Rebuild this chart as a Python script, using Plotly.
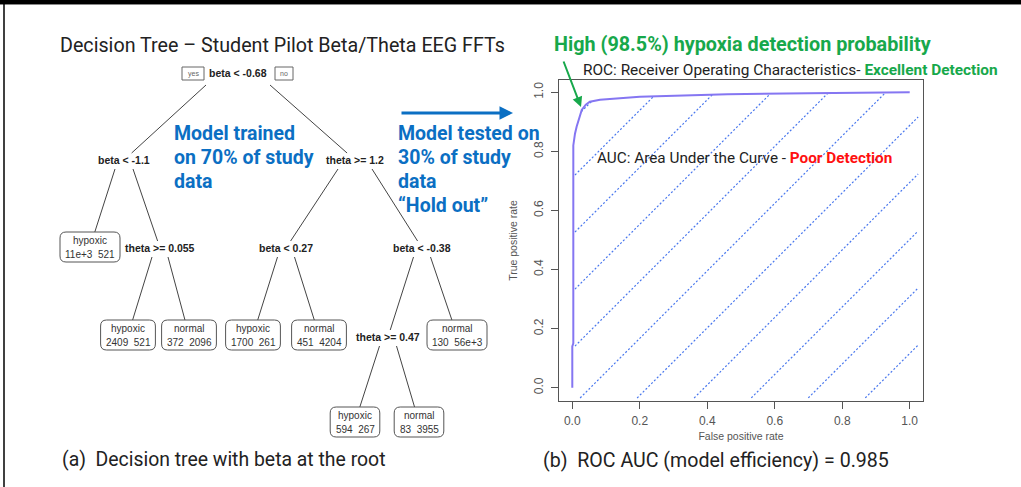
import numpy as np
import plotly.graph_objects as go

W, H = 1021, 487

# ------------------------------------------------------------------ data
roc_fpr = [0.0, 0.0, 0.003, 0.003, 0.008, 0.013, 0.028, 0.040, 0.052, 0.082, 0.20, 0.46, 0.70, 1.0]
roc_tpr = [0.0, 0.14, 0.15, 0.82, 0.86, 0.884, 0.94, 0.958, 0.968, 0.975, 0.985, 0.993, 0.997, 1.0]
tick_vals = [0.0, 0.2, 0.4, 0.6, 0.8, 1.0]
tick_text = ["0.0", "0.2", "0.4", "0.6", "0.8", "1.0"]

split_labels = ["beta < -0.68", "beta < -1.1", "theta >= 1.2", "theta >= 0.055",
                "beta < 0.27", "beta < -0.38", "theta >= 0.47"]
leaf_classes = ["hypoxic", "hypoxic", "normal", "hypoxic", "normal", "hypoxic", "normal", "normal"]
leaf_counts = ["11e+3  521", "2409  521", "372  2096", "1700  261", "451  4204",
               "594  267", "83  3955", "130  56e+3"]
# (parent split, child kind, child index, side)
tree_edges = [(0, "s", 1, -1), (0, "s", 2, 1),
              (1, "l", 0, -1), (1, "s", 3, 1),
              (2, "s", 4, -1), (2, "s", 5, 1),
              (3, "l", 1, -1), (3, "l", 2, 1),
              (4, "l", 3, -1), (4, "l", 4, 1),
              (5, "s", 6, -1), (5, "l", 7, 1),
              (6, "l", 5, -1), (6, "l", 6, 1)]

# ------------------------------------------------------------------ layout geometry (pixels)
split_pos = [(238, 73), (124, 160), (355, 160), (160, 248), (286, 248), (422, 248), (388, 337)]
split_spread = [32, 9, 17, 8, 8.5, 8.5, 8.5]
leaf_pos = [(90, 247), (128, 335), (189, 335), (253, 335), (319, 335), (355, 422), (419, 422), (457, 335)]
leaf_h = 30

roc_px = dict(left=559, right=923, top=80, bottom=401)
x_range = [-0.0394, 1.0394]
y_range = [-0.045, 1.0416]

GREEN = "#17a84b"
BLUE = "#0b6fc3"
RED = "#ff1010"
HATCH = "#4a78ee"
ROC_COL = "#8576f2"
AX = "#555555"

fig = go.Figure()

# ------------------------------------------------------------------ tree (pixel axes x2/y2)
ex, ey = [], []
for p, kind, c, side in tree_edges:
    px, py = split_pos[p]
    sx = px + side * split_spread[p]
    sy = py + (12 if p == 0 else 9)
    if kind == "s":
        cx, cy = split_pos[c]
        top = cy - 7
    else:
        cx, cy = leaf_pos[c]
        top = cy - leaf_h / 2
    t = (top - sy) / (cy - sy)
    exx = sx + (cx - sx) * t
    ex += [sx, exx, None]
    ey += [sy, top, None]
fig.add_trace(go.Scatter(x=ex, y=ey, mode="lines", line=dict(color="#444", width=1),
                         xaxis="x2", yaxis="y2", hoverinfo="skip", showlegend=False))

shapes = []
annotations = []

for lab, (x, y) in zip(split_labels, split_pos):
    annotations.append(dict(x=x, y=y, xref="x2", yref="y2", text="<b>%s</b>" % lab, showarrow=False,
                            font=dict(family="Liberation Sans", size=10.5, color="#222"),
                            xanchor="center", yanchor="middle"))

for cls, cnt, (x, y) in zip(leaf_classes, leaf_counts, leaf_pos):
    w = len(cnt) * 5.2 + 8
    x0, x1 = x - w / 2, x + w / 2
    y0, y1 = y - leaf_h / 2, y + leaf_h / 2
    r = 6
    path = (f"M {x0+r},{y0} L {x1-r},{y0} Q {x1},{y0} {x1},{y0+r} L {x1},{y1-r} Q {x1},{y1} {x1-r},{y1} "
            f"L {x0+r},{y1} Q {x0},{y1} {x0},{y1-r} L {x0},{y0+r} Q {x0},{y0} {x0+r},{y0} Z")
    shapes.append(dict(type="path", path=path, xref="x2", yref="y2", line=dict(color="#555", width=1)))
    annotations.append(dict(x=x, y=y - 6.5, xref="x2", yref="y2", text=cls, showarrow=False,
                            font=dict(family="Liberation Sans", size=10, color="#333"),
                            xanchor="center", yanchor="middle"))
    annotations.append(dict(x=x, y=y + 7, xref="x2", yref="y2", text=cnt.replace("  ", "&nbsp;&nbsp;"),
                            showarrow=False, font=dict(family="Liberation Sans", size=10, color="#333"),
                            xanchor="center", yanchor="middle"))

# yes / no boxes at root
for txt_, (x0, x1) in [("yes", (182, 204)), ("no", (275, 293))]:
    shapes.append(dict(type="rect", x0=x0, x1=x1, y0=67, y1=80, xref="x2", yref="y2",
                       line=dict(color="#666", width=1)))
    annotations.append(dict(x=(x0 + x1) / 2, y=73.5, xref="x2", yref="y2", text=txt_, showarrow=False,
                            font=dict(family="Liberation Sans", size=7, color="#666"),
                            xanchor="center", yanchor="middle"))

# ------------------------------------------------------------------ ROC
fpr = np.array(roc_fpr)
tpr = np.array(roc_tpr)

# hatching under the curve
px_per_x = (roc_px["right"] - roc_px["left"]) / (x_range[1] - x_range[0])
px_per_y = (roc_px["bottom"] - roc_px["top"]) / (y_range[1] - y_range[0])
slope = px_per_x / px_per_y          # 45 degrees on screen
hatch_bottom = -0.035
hatch_left, hatch_right = 0.008, 1.025
hatch_start, hatch_step = 0.023, 0.169
grid = np.linspace(hatch_left, hatch_right, 2000)
curve = np.interp(grid, fpr[3:], tpr[3:])
hx, hy = [], []
for k in range(-8, 8):
    x0 = hatch_start + k * hatch_step
    line = hatch_bottom + slope * (grid - x0)
    ok = (line >= hatch_bottom) & (line <= curve)
    if ok.any():
        idx = np.where(ok)[0]
        a, b = idx[0], idx[-1]
        hx += [grid[a], grid[b], None]
        hy += [line[a], line[b], None]
fig.add_trace(go.Scatter(x=hx, y=hy, mode="lines", line=dict(color=HATCH, width=1.2, dash="2px,2px"),
                         hoverinfo="skip", showlegend=False))
fig.add_trace(go.Scatter(x=roc_fpr, y=roc_tpr, mode="lines", line=dict(color=ROC_COL, width=2),
                         showlegend=False))

# ------------------------------------------------------------------ texts
def txt(x, y, s, size, color="#222", anchor="left", family="Roboto"):
    annotations.append(dict(x=x, y=y, xref="x2", yref="y2", text=s, showarrow=False,
                            font=dict(family=family, size=size, color=color),
                            xanchor=anchor, yanchor="middle"))

txt(58, 45, "Decision Tree – Student Pilot Beta/Theta EEG FFTs", 19.7)
txt(552, 44, "<b>High (98.5%) hypoxia detection probability</b>", 19.8, GREEN)
txt(581, 70, "ROC: Receiver Operating Characteristics- <b><span style='color:%s'>Excellent Detection</span></b>" % GREEN, 15.4)
for i, s in enumerate(["Model trained", "on 70% of study", "data"]):
    txt(172, 133 + i * 24.3, "<b>%s</b>" % s, 19.5, BLUE)
for i, s in enumerate(["Model tested on", "30% of study", "data", "“Hold out”"]):
    txt(396, 133 + i * 24.3, "<b>%s</b>" % s, 19.5, BLUE)
txt(595, 158, "AUC: Area Under the Curve - <b><span style='color:%s'>Poor Detection</span></b>" % RED, 15.3)
txt(60, 459, "(a)  Decision tree with beta at the root", 19.4)
txt(541, 460, "(b)  ROC AUC (model efficiency) = 0.985", 19.6)

# arrows
annotations.append(dict(x=581, y=107, ax=563, ay=60, xref="x2", yref="y2", axref="x2", ayref="y2",
                        text="", showarrow=True, arrowhead=2, arrowsize=1, arrowwidth=2, arrowcolor=GREEN))
annotations.append(dict(x=513, y=113, ax=400, ay=113, xref="x2", yref="y2", axref="x2", ayref="y2",
                        text="", showarrow=True, arrowhead=2, arrowsize=0.9, arrowwidth=3, arrowcolor=BLUE))

# frame
shapes.append(dict(type="rect", xref="x2", yref="y2", x0=0, x1=W, y0=0, y1=4, fillcolor="black",
                   line=dict(width=0), layer="above"))
shapes.append(dict(type="line", xref="x2", yref="y2", x0=0, x1=W, y0=4.5, y1=4.5,
                   line=dict(color="#888", width=1), layer="above"))
shapes.append(dict(type="line", xref="x2", yref="y2", x0=4, x1=4, y0=4, y1=H,
                   line=dict(color="black", width=1.5), layer="above"))

axis_common = dict(showgrid=False, zeroline=False, showline=True, mirror=True, linecolor=AX, linewidth=1,
                   ticks="outside", ticklen=7, tickcolor=AX, tickwidth=1,
                   tickvals=tick_vals, ticktext=tick_text,
                   tickfont=dict(family="Liberation Sans", size=12, color=AX), fixedrange=True)

fig.update_layout(
    width=W, height=H, margin=dict(l=0, r=0, t=0, b=0),
    paper_bgcolor="white", plot_bgcolor="rgba(0,0,0,0)",
    showlegend=False,
    xaxis=dict(domain=[roc_px["left"] / W, roc_px["right"] / W], range=x_range, anchor="y",
               title=dict(text="False positive rate", standoff=5,
                          font=dict(family="Liberation Sans", size=10.5, color=AX)),
               ticklabelstandoff=2,
               **axis_common),
    yaxis=dict(domain=[1 - roc_px["bottom"] / H, 1 - roc_px["top"] / H], range=y_range, anchor="x",
               tickangle=-90, ticklabelstandoff=3,
               title=dict(text="True positive rate", standoff=12,
                          font=dict(family="Liberation Sans", size=10.5, color=AX)),
               **axis_common),
    xaxis2=dict(domain=[0, 1], range=[0, W], visible=False, anchor="y2", fixedrange=True),
    yaxis2=dict(domain=[0, 1], range=[H, 0], visible=False, anchor="x2", fixedrange=True),
    shapes=shapes, annotations=annotations,
)

fig.write_html("out.html")
